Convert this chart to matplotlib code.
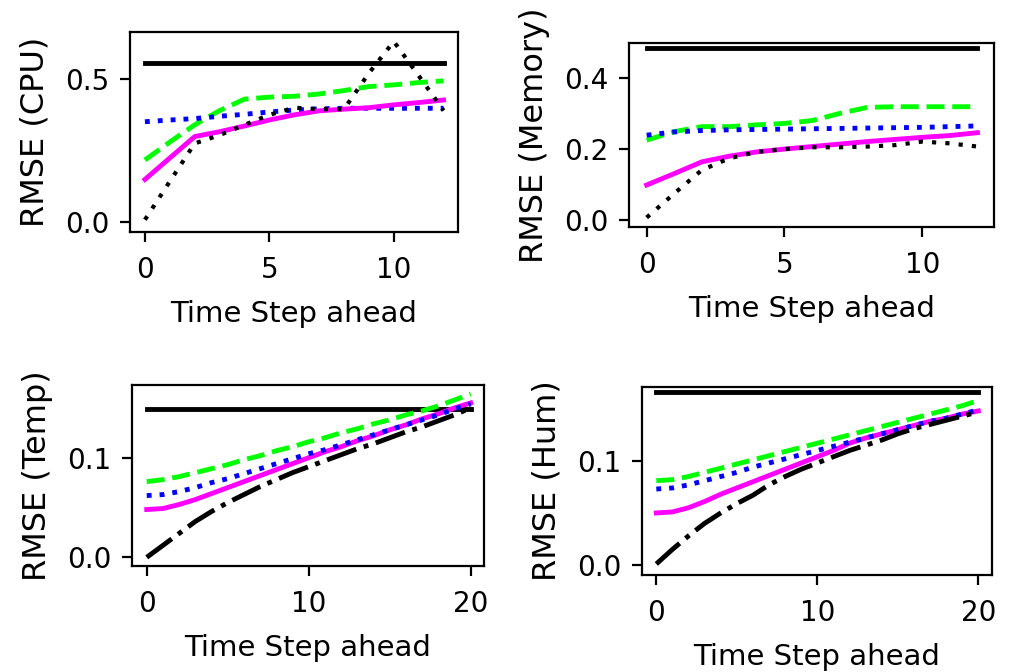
import matplotlib
matplotlib.use("Agg")
import matplotlib.pyplot as plt

# ---------------- data ----------------
steps_short = list(range(13))
steps_long = list(range(21))

cpu_baseline = [0.558] * 13
cpu_green = [0.217, 0.28, 0.34, 0.39, 0.43, 0.437, 0.44, 0.448, 0.46, 0.474, 0.48, 0.488, 0.494]
cpu_magenta = [0.149, 0.224, 0.299, 0.316, 0.336, 0.357, 0.375, 0.389, 0.395, 0.40, 0.41, 0.418, 0.427]
cpu_blue = [0.351, 0.357, 0.362, 0.370, 0.377, 0.385, 0.392, 0.396, 0.398, 0.398, 0.398, 0.398, 0.398]
cpu_black = [0.008, 0.142, 0.275, 0.304, 0.34, 0.375, 0.40, 0.395, 0.395, 0.521, 0.632, 0.512, 0.39]

mem_baseline = [0.484] * 13
mem_green = [0.225, 0.249, 0.263, 0.263, 0.268, 0.272, 0.28, 0.30, 0.317, 0.319, 0.319, 0.319, 0.319]
mem_magenta = [0.099, 0.131, 0.164, 0.18, 0.192, 0.2, 0.207, 0.214, 0.221, 0.227, 0.233, 0.238, 0.246]
mem_blue = [0.239, 0.248, 0.252, 0.254, 0.255, 0.256, 0.257, 0.258, 0.259, 0.260, 0.261, 0.263, 0.265]
mem_black = [0.0075, 0.075, 0.141, 0.174, 0.192, 0.2, 0.205, 0.205, 0.207, 0.211, 0.221, 0.216, 0.207]

temp_baseline = [0.1485] * 21
temp_green = [0.076, 0.078, 0.081, 0.085, 0.089, 0.093, 0.098, 0.102, 0.107, 0.111, 0.116,
              0.120, 0.125, 0.129, 0.134, 0.138, 0.143, 0.147, 0.152, 0.158, 0.164]
temp_blue = [0.062, 0.063, 0.066, 0.070, 0.075, 0.079, 0.084, 0.089, 0.094, 0.099, 0.104,
             0.108, 0.113, 0.118, 0.123, 0.128, 0.133, 0.138, 0.143, 0.149, 0.154]
temp_magenta = [0.048, 0.049, 0.053, 0.058, 0.064, 0.070, 0.076, 0.082, 0.088, 0.094, 0.100,
                0.106, 0.111, 0.117, 0.122, 0.128, 0.133, 0.139, 0.144, 0.150, 0.155]
temp_black = [0.000, 0.012, 0.024, 0.036, 0.046, 0.055, 0.063, 0.071, 0.078, 0.085, 0.091,
              0.097, 0.103, 0.109, 0.114, 0.120, 0.126, 0.131, 0.137, 0.143, 0.150]

hum_baseline = [0.166] * 21
hum_green = [0.081, 0.082, 0.085, 0.089, 0.093, 0.097, 0.101, 0.105, 0.109, 0.113, 0.117,
             0.121, 0.125, 0.129, 0.133, 0.137, 0.141, 0.145, 0.149, 0.153, 0.158]
hum_blue = [0.073, 0.074, 0.077, 0.081, 0.085, 0.089, 0.094, 0.098, 0.102, 0.106, 0.110,
            0.114, 0.118, 0.122, 0.126, 0.130, 0.134, 0.138, 0.141, 0.145, 0.149]
hum_magenta = [0.050, 0.051, 0.055, 0.061, 0.068, 0.074, 0.080, 0.086, 0.092, 0.098, 0.104,
               0.110, 0.117, 0.122, 0.126, 0.130, 0.134, 0.138, 0.141, 0.145, 0.148]
hum_black = [0.001, 0.015, 0.028, 0.040, 0.050, 0.059, 0.067, 0.077, 0.085, 0.092, 0.098,
             0.104, 0.110, 0.115, 0.120, 0.126, 0.131, 0.135, 0.139, 0.143, 0.147]

x_label = "Time Step ahead"

# ---------------- style ----------------
plt.rcParams['font.family'] = ['DejaVu Sans']
FS_TICK = 20
FS_XLAB = 21
FS_YLAB = 23
LW = 3.5

fig = plt.figure(figsize=(10.15, 6.72), dpi=100)


def style_axes(ax, ylabel, yticks, xticks, xlim, ylim):
    ax.set_xlim(*xlim)
    ax.set_ylim(*ylim)
    ax.set_xticks(xticks)
    ax.set_yticks(yticks)
    ax.set_xlabel(x_label, fontsize=FS_XLAB, labelpad=12)
    ax.set_ylabel(ylabel, fontsize=FS_YLAB, labelpad=10)
    ax.tick_params(labelsize=FS_TICK, length=7, width=1.6)
    ax.tick_params(axis='x', pad=10)
    ax.tick_params(axis='y', pad=8)
    for s in ax.spines.values():
        s.set_linewidth(1.6)


# CPU
ax1 = fig.add_axes([130 / 1015, 1 - 232 / 672, 328 / 1015, 200 / 672])
ax1.plot(steps_short, cpu_baseline, color='black', lw=LW, ls='-')
ax1.plot(steps_short, cpu_green, color='#00ff00', lw=LW, ls='--')
ax1.plot(steps_short, cpu_blue, color='#0000ff', lw=LW, ls=':')
ax1.plot(steps_short, cpu_magenta, color='#ff00ff', lw=LW, ls='-')
ax1.plot(steps_short, cpu_black, color='black', lw=3.0, ls=(0, (1, 2.2)))
style_axes(ax1, "RMSE (CPU)", [0.0, 0.5], [0, 5, 10], (-0.6, 12.58), (-0.035, 0.665))
ax1.set_yticklabels(["0.0", "0.5"])

# Memory
ax2 = fig.add_axes([629 / 1015, 1 - 227 / 672, 365 / 1015, 184 / 672])
ax2.plot(steps_short, mem_baseline, color='black', lw=LW, ls='-')
ax2.plot(steps_short, mem_green, color='#00ff00', lw=LW, ls='--')
ax2.plot(steps_short, mem_blue, color='#0000ff', lw=LW, ls=':')
ax2.plot(steps_short, mem_magenta, color='#ff00ff', lw=LW, ls='-')
ax2.plot(steps_short, mem_black, color='black', lw=3.0, ls=(0, (1, 2.2)))
style_axes(ax2, "RMSE (Memory)", [0.0, 0.2, 0.4], [0, 5, 10], (-0.64, 12.6), (-0.019, 0.498))
ax2.set_yticklabels(["0.0", "0.2", "0.4"])

# Temp
ax3 = fig.add_axes([132 / 1015, 1 - 566 / 672, 352 / 1015, 181 / 672])
ax3.plot(steps_long, temp_baseline, color='black', lw=LW, ls='-')
ax3.plot(steps_long, temp_green, color='#00ff00', lw=LW, ls='--')
ax3.plot(steps_long, temp_magenta, color='#ff00ff', lw=LW, ls='-')
ax3.plot(steps_long, temp_blue, color='#0000ff', lw=LW, ls=':')
ax3.plot(steps_long, temp_black, color='black', lw=LW, ls='-.')
style_axes(ax3, "RMSE (Temp)", [0.0, 0.1], [0, 10, 20], (-0.91, 20.82), (-0.0087, 0.173))
ax3.set_yticklabels(["0.0", "0.1"])

# Hum
ax4 = fig.add_axes([642 / 1015, 1 - 575 / 672, 350 / 1015, 188 / 672])
ax4.plot(steps_long, hum_baseline, color='black', lw=LW, ls='-')
ax4.plot(steps_long, hum_green, color='#00ff00', lw=LW, ls='--')
ax4.plot(steps_long, hum_magenta, color='#ff00ff', lw=LW, ls='-')
ax4.plot(steps_long, hum_blue, color='#0000ff', lw=LW, ls=':')
ax4.plot(steps_long, hum_black, color='black', lw=LW, ls='-.')
style_axes(ax4, "RMSE (Hum)", [0.0, 0.1], [0, 10, 20], (-0.89, 20.85), (-0.0096, 0.171))
ax4.set_yticklabels(["0.0", "0.1"])

fig.savefig("out.png", dpi=100)
